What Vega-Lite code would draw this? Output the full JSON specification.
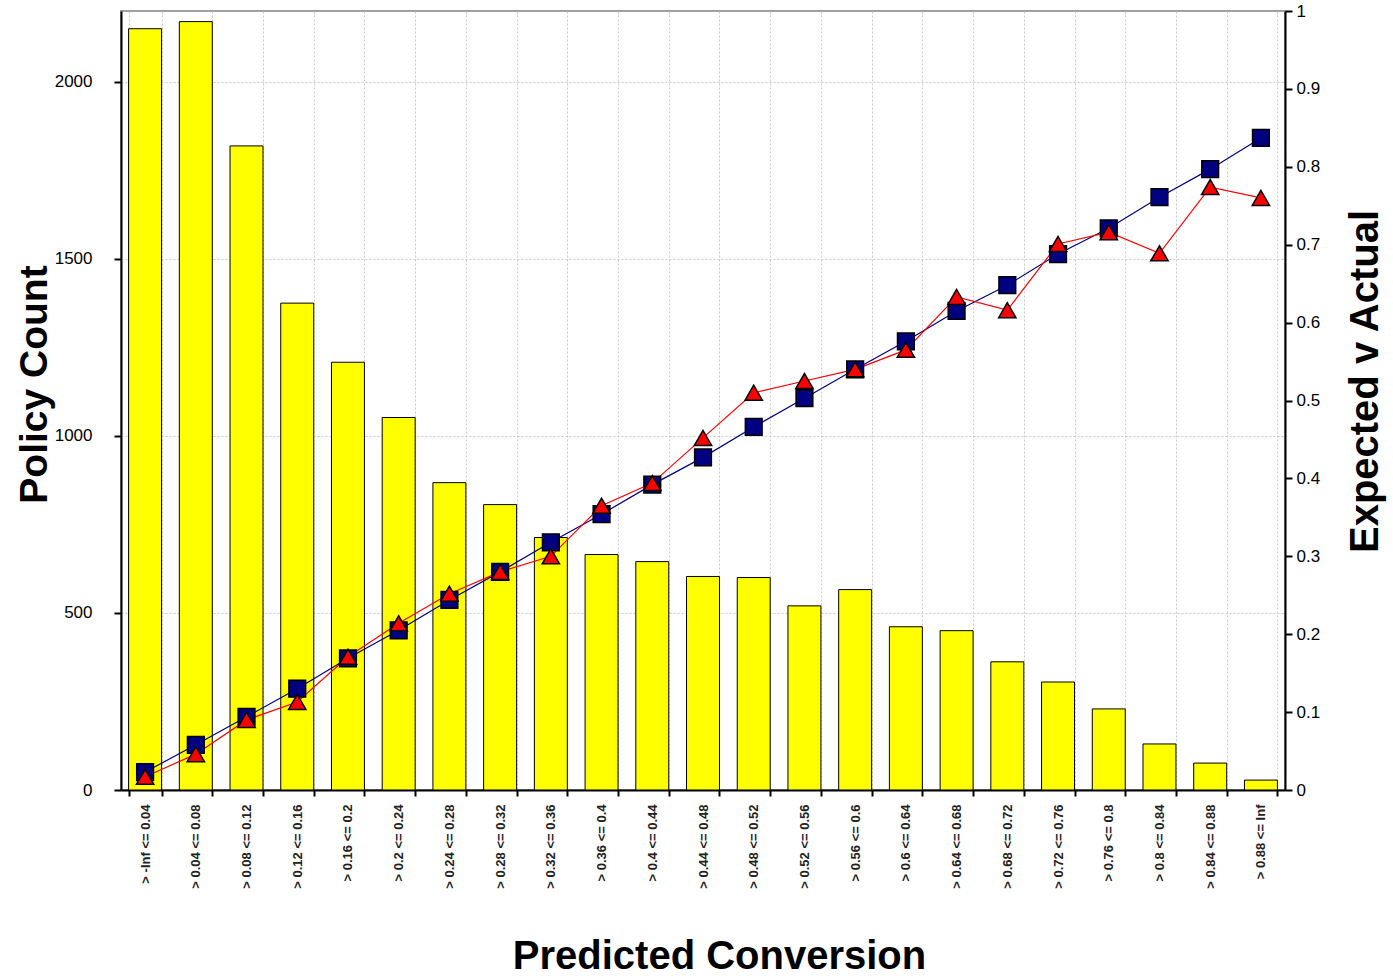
{
  "$schema": "https://vega.github.io/schema/vega-lite/v6.json",
  "width": 1164,
  "height": 779,
  "autosize": "none",
  "padding": {"left": 121, "top": 11, "right": 108, "bottom": 188},
  "background": "white",
  "config": {
    "font": "Liberation Sans",
    "view": {"stroke": "#a0a0a0", "strokeWidth": 2},
    "axis": {"labelFont": "Liberation Sans", "titleFont": "Liberation Sans"}
  },
  "data": {
    "values": [
      {"bin": "> -Inf <= 0.04", "count": 2150, "expected": 0.023, "actual": 0.017},
      {"bin": "> 0.04 <= 0.08", "count": 2170, "expected": 0.058, "actual": 0.046},
      {"bin": "> 0.08 <= 0.12", "count": 1819, "expected": 0.094, "actual": 0.090},
      {"bin": "> 0.12 <= 0.16", "count": 1375, "expected": 0.130, "actual": 0.113},
      {"bin": "> 0.16 <= 0.2", "count": 1208, "expected": 0.169, "actual": 0.171},
      {"bin": "> 0.2 <= 0.24", "count": 1052, "expected": 0.205, "actual": 0.214},
      {"bin": "> 0.24 <= 0.28", "count": 868, "expected": 0.244, "actual": 0.252},
      {"bin": "> 0.28 <= 0.32", "count": 806, "expected": 0.280, "actual": 0.280},
      {"bin": "> 0.32 <= 0.36", "count": 713, "expected": 0.318, "actual": 0.300},
      {"bin": "> 0.36 <= 0.4", "count": 665, "expected": 0.354, "actual": 0.365},
      {"bin": "> 0.4 <= 0.44", "count": 645, "expected": 0.392, "actual": 0.394},
      {"bin": "> 0.44 <= 0.48", "count": 603, "expected": 0.427, "actual": 0.452},
      {"bin": "> 0.48 <= 0.52", "count": 600, "expected": 0.466, "actual": 0.510},
      {"bin": "> 0.52 <= 0.56", "count": 520, "expected": 0.503, "actual": 0.525},
      {"bin": "> 0.56 <= 0.6", "count": 566, "expected": 0.540, "actual": 0.540},
      {"bin": "> 0.6 <= 0.64", "count": 461, "expected": 0.576, "actual": 0.565},
      {"bin": "> 0.64 <= 0.68", "count": 450, "expected": 0.615, "actual": 0.633},
      {"bin": "> 0.68 <= 0.72", "count": 362, "expected": 0.648, "actual": 0.616},
      {"bin": "> 0.72 <= 0.76", "count": 305, "expected": 0.688, "actual": 0.701},
      {"bin": "> 0.76 <= 0.8", "count": 229, "expected": 0.721, "actual": 0.716},
      {"bin": "> 0.8 <= 0.84", "count": 130, "expected": 0.761, "actual": 0.689},
      {"bin": "> 0.84 <= 0.88", "count": 76, "expected": 0.797, "actual": 0.774},
      {"bin": "> 0.88 <= Inf", "count": 28, "expected": 0.837, "actual": 0.760}
    ]
  },
  "encoding": {
    "x": {
      "field": "bin",
      "type": "nominal",
      "sort": null,
      "scale": {"paddingInner": 0.35, "paddingOuter": 0.15},
      "axis": {
        "title": "Predicted Conversion",
        "titleFontSize": 40,
        "titleFontWeight": "bold",
        "titleColor": "black",
        "titlePadding": 48,
        "titleX": 598,
        "labelAngle": -90,
        "labelAlign": "right",
        "labelBaseline": "middle",
        "labelFontSize": 13,
        "labelFontWeight": "bold",
        "labelColor": "#222222",
        "labelPadding": 8,
        "tickBand": "extent",
        "tickColor": "black",
        "tickWidth": 2,
        "tickSize": 6,
        "domainColor": "black",
        "domainWidth": 2,
        "grid": true,
        "gridColor": "#c8c8c8",
        "gridDash": [2, 2],
        "gridWidth": 1
      }
    }
  },
  "layer": [
    {
      "mark": {"type": "bar", "fill": "#FFFF00", "stroke": "black", "strokeWidth": 1},
      "encoding": {
        "y": {
          "field": "count",
          "type": "quantitative",
          "scale": {"domain": [0, 2200], "nice": false},
          "axis": {
            "title": "Policy Count",
            "titleFontSize": 39,
            "titleFontWeight": "bold",
            "titleColor": "black",
            "titlePadding": 0,
            "titleY": 373,
            "values": [0, 500, 1000, 1500, 2000],
            "format": "d",
            "labelFontSize": 17,
            "labelColor": "black",
            "labelPadding": 22,
            "tickColor": "black",
            "tickWidth": 2,
            "tickSize": 7,
            "domainColor": "black",
            "domainWidth": 2,
            "grid": true,
            "gridColor": "#c8c8c8",
            "gridDash": [2, 2],
            "gridWidth": 1
          }
        }
      }
    },
    {
      "layer": [
        {
          "mark": {"type": "line", "color": "#000080", "strokeWidth": 1.2},
          "encoding": {
            "y": {"field": "expected", "type": "quantitative"}
          }
        },
        {
          "mark": {"type": "line", "color": "#FF0000", "strokeWidth": 1.2},
          "encoding": {
            "y": {"field": "actual", "type": "quantitative"}
          }
        },
        {
          "mark": {"type": "point", "shape": "square", "filled": true, "fill": "#000080", "stroke": "black", "strokeWidth": 1.5, "size": 280, "opacity": 1},
          "encoding": {
            "y": {"field": "expected", "type": "quantitative"}
          }
        },
        {
          "mark": {"type": "point", "shape": "triangle-up", "filled": true, "fill": "#FF0000", "stroke": "black", "strokeWidth": 1.5, "size": 300, "opacity": 1},
          "encoding": {
            "y": {"field": "actual", "type": "quantitative"}
          }
        }
      ],
      "encoding": {
        "y": {
          "type": "quantitative",
          "scale": {"domain": [0, 1], "nice": false},
          "axis": {
            "orient": "right",
            "title": "Expected v Actual",
            "titleFontSize": 40,
            "titleFontWeight": "bold",
            "titleColor": "black",
            "titleAngle": 270,
            "titleBaseline": "top",
            "titlePadding": 26,
            "titleY": 370,
            "values": [0, 0.1, 0.2, 0.3, 0.4, 0.5, 0.6, 0.7, 0.8, 0.9, 1],
            "format": "~g",
            "labelFontSize": 17,
            "labelColor": "black",
            "labelPadding": 4,
            "tickColor": "black",
            "tickWidth": 2,
            "tickSize": 7,
            "domainColor": "black",
            "domainWidth": 2,
            "grid": false
          }
        }
      }
    }
  ],
  "resolve": {"scale": {"y": "independent"}}
}
